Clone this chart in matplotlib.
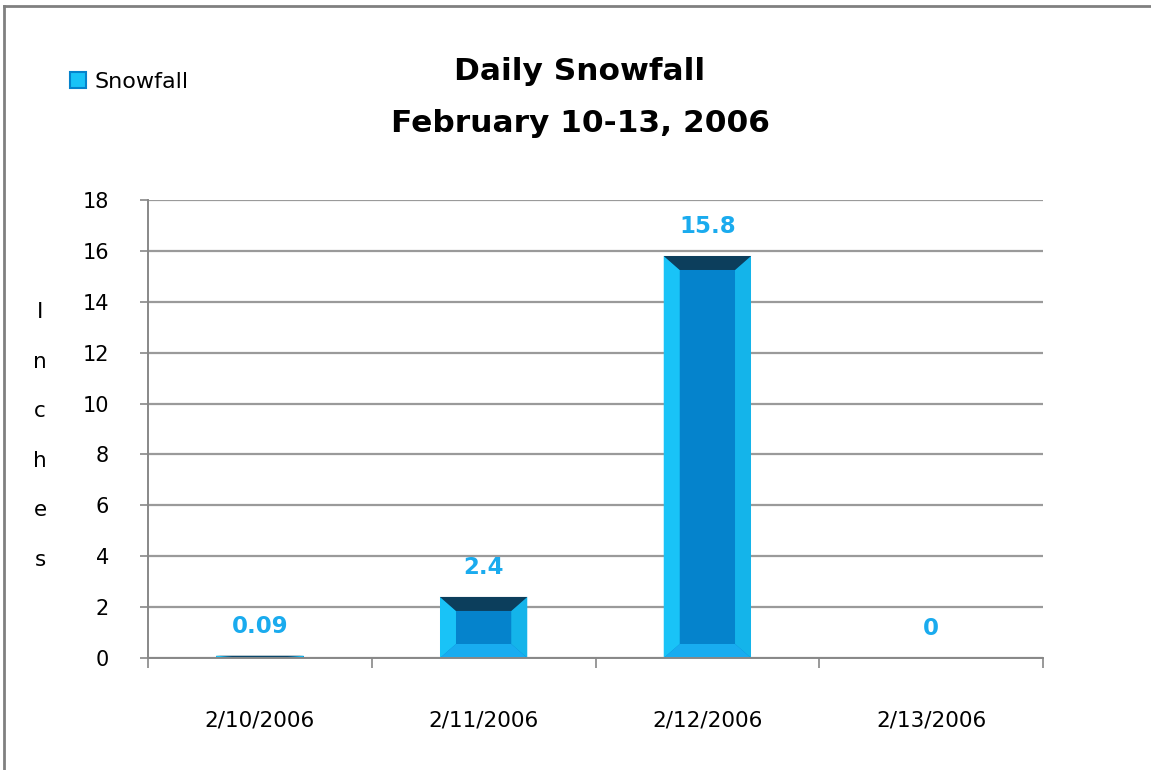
import matplotlib as mpl
import matplotlib.pyplot as plt
from matplotlib.patches import Polygon, Patch
from matplotlib.lines import Line2D

# data
dates = ["2/10/2006", "2/11/2006", "2/12/2006", "2/13/2006"]
snowfall = [0.09, 2.4, 15.8, 0]
value_labels = ["0.09", "2.4", "15.8", "0"]
y_ticks = [0, 2, 4, 6, 8, 10, 12, 14, 16, 18]

# bar face colours (bevelled look)
c_face = "#0583cc"
c_top = "#0c3e5c"
c_left = "#19c3f7"
c_right = "#14b4ea"
c_bottom = "#18acf0"
c_label = "#1aabee"

fig = plt.figure(figsize=(11.51, 7.70), dpi=100)
ax = fig.add_axes([148/1151, 1-658/770, (1043-148)/1151, (658-200)/770])

bar_w = 0.39
xs = list(range(len(dates)))
ax.bar(xs, snowfall, width=bar_w, color=c_face, zorder=2)

# pixel size of the bevel converted to data units
ax_w_px = (1043 - 148)
ax_h_px = (658 - 200)
bx = 16 / (ax_w_px / 4.0)
by = 14 / (ax_h_px / 18.0)
for x, v in zip(xs, snowfall):
    if v <= 0:
        continue
    x0, x1 = x - bar_w/2, x + bar_w/2
    dy = min(by, v/2)
    dx = min(bx, bar_w/2)
    ax.add_patch(Polygon([(x0, 0), (x0+dx, dy), (x0+dx, v-dy), (x0, v)],
                         closed=True, color=c_left, lw=0, zorder=3))
    ax.add_patch(Polygon([(x1, 0), (x1-dx, dy), (x1-dx, v-dy), (x1, v)],
                         closed=True, color=c_right, lw=0, zorder=3))
    ax.add_patch(Polygon([(x0, 0), (x1, 0), (x1-dx, dy), (x0+dx, dy)],
                         closed=True, color=c_bottom, lw=0, zorder=3))
    ax.add_patch(Polygon([(x0, v), (x1, v), (x1-dx, v-dy), (x0+dx, v-dy)],
                         closed=True, color=c_top, lw=0, zorder=3))

# value labels above bars
for x, v, s in zip(xs, snowfall, value_labels):
    ax.annotate(s, (x, v), xytext=(0, 21), textcoords="offset points",
                ha="center", va="center", fontsize=16.5, fontweight="bold",
                color=c_label)

# axes
ax.set_xlim(-0.5, 3.5)
ax.set_ylim(0, 18)
ax.set_yticks(y_ticks)
ax.set_yticklabels([str(t) for t in y_ticks], fontsize=15)
ax.set_xticks(xs)
ax.set_xticklabels(dates, fontsize=15.5)
ax.set_xticks([-0.5, 0.5, 1.5, 2.5, 3.5], minor=True)
ax.tick_params(axis="x", which="major", length=0, pad=38)
ax.tick_params(axis="x", which="minor", length=7, width=1.2, color="#888888")
ax.tick_params(axis="y", length=6, width=1.2, color="#888888", pad=22)
ax.yaxis.grid(True, color="#9a9a9a", lw=1.6)
ax.set_axisbelow(True)
for side in ("top", "right"):
    ax.spines[side].set_visible(False)
for side in ("left", "bottom"):
    ax.spines[side].set_color("#888888")
    ax.spines[side].set_linewidth(1.4)
ax.spines["bottom"].set_zorder(4)

# stacked y label
fig.text(40/1151, 1-436/770, "\n".join("Inches"), ha="center", va="center",
         fontsize=15.5, linespacing=2.85)

# title
fig.text(580/1151, 1-98/770, "Daily Snowfall\nFebruary 10-13, 2006",
         ha="center", va="center", fontsize=22.5, fontweight="bold",
         linespacing=2.0)

# legend
fig.legend(handles=[Patch(facecolor=c_left, edgecolor=c_face, lw=1.5)],
           labels=["Snowfall"], loc="center left",
           bbox_to_anchor=(50/1151, 1-82/770), frameon=False, fontsize=16,
           handlelength=0.7, handleheight=0.7, handletextpad=0.4)

# outer border (top and left only)
fig.add_artist(Line2D([4/1151, 4/1151], [0, 1-6/770], transform=fig.transFigure,
                      color="#808080", lw=2))
fig.add_artist(Line2D([4/1151, 1], [1-6/770, 1-6/770], transform=fig.transFigure,
                      color="#808080", lw=2))

fig.savefig("out.png", dpi=100)
